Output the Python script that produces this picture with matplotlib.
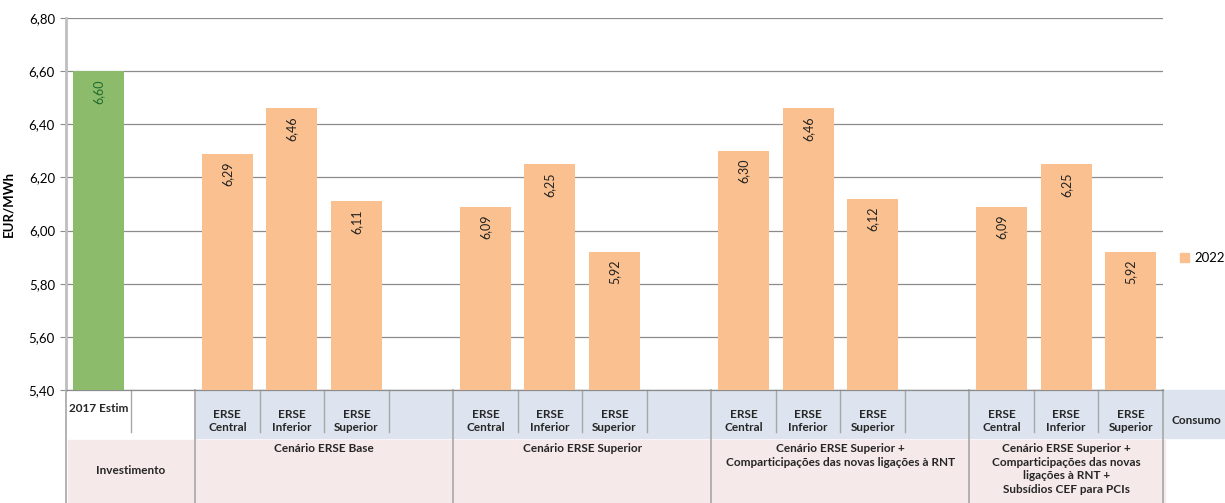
import matplotlib.pyplot as plt
from matplotlib.patches import Rectangle
import matplotlib.transforms as mtransforms

plt.rcParams['font.family'] = ['Lato', 'DejaVu Sans']

# Data
slot_labels = ['2017 Estim', '',
               'ERSE\nCentral', 'ERSE\nInferior', 'ERSE\nSuperior', '',
               'ERSE\nCentral', 'ERSE\nInferior', 'ERSE\nSuperior', '',
               'ERSE\nCentral', 'ERSE\nInferior', 'ERSE\nSuperior', '',
               'ERSE\nCentral', 'ERSE\nInferior', 'ERSE\nSuperior']
estim_value = 6.60
values_2022 = [None, None, 6.29, 6.46, 6.11, None, 6.09, 6.25, 5.92, None,
               6.30, 6.46, 6.12, None, 6.09, 6.25, 5.92]
groups = ['Cenário ERSE Base', 'Cenário ERSE Superior',
          'Cenário ERSE Superior +\nComparticipações das novas ligações à RNT',
          'Cenário ERSE Superior +\nComparticipações das novas\nligações à RNT +\nSubsídios CEF para PCIs']
group_spans = [(2, 5), (6, 9), (10, 13), (14, 16)]
yticks = [5.4, 5.6, 5.8, 6.0, 6.2, 6.4, 6.6, 6.8]

green = '#8CBB6C'
orange = '#FAC08F'
blue_row = '#DDE4EF'
pink_row = '#F6E9E9'
sep = '#A6A6A6'

fig = plt.figure(figsize=(12.25, 5.03), dpi=100)
ax = fig.add_axes([66 / 1225, 1 - 390 / 503, (1163 - 66) / 1225, 372 / 503])

xs = list(range(len(slot_labels)))
bw = 0.79
ax.bar(0, estim_value - 5.4, bottom=5.4, width=bw, color=green, zorder=3)
ax.text(0, estim_value, f'{estim_value:.2f}'.replace('.', ','), rotation=90,
        ha='center', va='top', fontsize=9, color='#1F6B2B',
        transform=ax.transData + mtransforms.ScaledTranslation(0, -8 / 100, fig.dpi_scale_trans),
        zorder=4)
bx = [x for x, v in zip(xs, values_2022) if v is not None]
bv = [v for v in values_2022 if v is not None]
ax.bar(bx, [v - 5.4 for v in bv], bottom=5.4, width=bw, color=orange, zorder=3, label='2022')
for x, v in zip(bx, bv):
    ax.text(x, v, f'{v:.2f}'.replace('.', ','), rotation=90, ha='center', va='top',
            fontsize=9, color='#222222',
            transform=ax.transData + mtransforms.ScaledTranslation(0, -8 / 100, fig.dpi_scale_trans),
            zorder=4)

ax.set_xlim(-0.5, 16.5)
ax.set_ylim(5.4, 6.8)
ax.set_yticks(yticks)
ax.set_yticklabels([f'{t:.2f}'.replace('.', ',') for t in yticks], fontsize=9.5)
ax.set_xticks([])
ax.yaxis.grid(True, color='#8C8C8C', linewidth=0.9, zorder=0)
ax.set_axisbelow(True)
for s in ['top', 'right']:
    ax.spines[s].set_visible(False)
ax.spines['left'].set_color('#BFBFBF')
ax.spines['left'].set_linewidth(2)
ax.spines['bottom'].set_color('#8C8C8C')
ax.spines['bottom'].set_linewidth(0.9)
ax.tick_params(axis='y', length=4, color='#8C8C8C', pad=4)
ax.set_ylabel('EUR/MWh', fontsize=9.5, fontweight='bold', labelpad=10)

# table below the chart
trans = mtransforms.blended_transform_factory(ax.transData, ax.transAxes)
px = 1 / 372.0
row1_top, row1_bot = 0, -48 * px
row2_top, row2_bot = -50 * px, -130 * px
ax.add_patch(Rectangle((1.5, row1_bot), 15.0, row1_top - row1_bot, transform=trans,
                       color=blue_row, clip_on=False, zorder=1))
ax.add_patch(Rectangle((16.5, row1_bot), 2.0, row1_top - row1_bot, transform=trans,
                       color=blue_row, clip_on=False, zorder=1))
ax.add_patch(Rectangle((-0.47, row2_bot), 17.0, row2_top - row2_bot, transform=trans,
                       color=pink_row, clip_on=False, zorder=1))

for b in range(1, 17):
    if b in (2, 6, 10, 14):
        continue
    ax.plot([b - 0.5, b - 0.5], [0, -42 * px], transform=trans, color=sep,
            linewidth=1, clip_on=False, zorder=2)
for b in (-0.5, 1.5, 5.5, 9.5, 13.5, 16.5):
    ax.plot([b, b], [0, row2_bot], transform=trans, color=sep,
            linewidth=1.2, clip_on=False, zorder=2)

for x, lab in zip(xs, slot_labels):
    if not lab:
        continue
    yy = -18 * px if x == 0 else -31 * px
    ax.text(x, yy, lab, transform=trans, ha='center', va='center', fontsize=8.5,
            fontweight='bold', color='#262626', linespacing=1.25, clip_on=False)
ax.text(0.5, -81 * px, 'Investimento', transform=trans, ha='center', va='center',
        fontsize=8.5, fontweight='bold', color='#262626', clip_on=False)
ax.text(16.63, -31 * px, 'Consumo', transform=trans, ha='left', va='center',
        fontsize=8.5, fontweight='bold', color='#262626', clip_on=False)
for name, (a, b) in zip(groups, group_spans):
    c = (a - 0.5 + b + 0.5) / 2 if b != 16 else 15
    ax.text(c, -53 * px, name, transform=trans, ha='center', va='top', fontsize=8.5,
            fontweight='bold', color='#262626', linespacing=1.3, clip_on=False)

fig.legend(handles=[Rectangle((0, 0), 1, 1, color=orange)], labels=['2022'],
           loc='center left', bbox_to_anchor=(1168 / 1225, 1 - 258 / 503),
           frameon=False, fontsize=9.5, handlelength=0.7, handleheight=0.7,
           handletextpad=0.4)

fig.savefig('out.png', dpi=100)
